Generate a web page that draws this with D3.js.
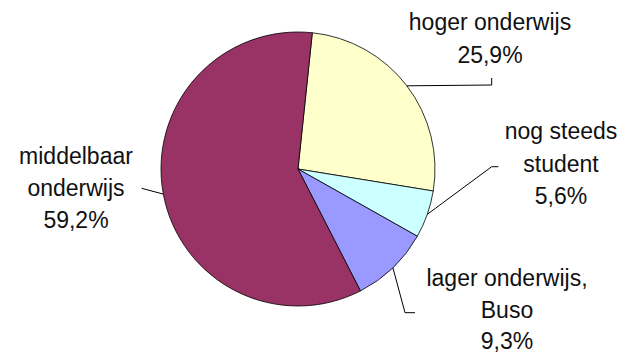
<!DOCTYPE html>
<html><head><meta charset="utf-8">
<script src="https://cdn.jsdelivr.net/npm/d3@7"></script>
<style>body{margin:0;background:#fff}svg{display:block}</style>
</head><body>
<script>
const categories = ["hoger onderwijs", "nog steeds student", "lager onderwijs, Buso", "middelbaar onderwijs"];
const values = [25.9, 5.6, 9.3, 59.2];
const labelLines = [["hoger onderwijs", "25,9%"], ["nog steeds", "student", "5,6%"], ["lager onderwijs,", "Buso", "9,3%"], ["middelbaar", "onderwijs", "59,2%"]];
const colors = ["#FFFFCC", "#CCFFFF", "#9999FF", "#993366"];

const W = 627, H = 354, cx = 298, cy = 169, R = 137;
const startDeg = 6;
// label layout: text center x, first baseline y, line height, elbow point, horizontal end
const layout = [
  {tx: 490, ty: 30, lh: 33, elbow: [491.7, 85], end: [491.7, 78]},
  {tx: 561, ty: 139, lh: 32.5, elbow: [491.7, 166.7], end: [498.3, 166.7]},
  {tx: 507, ty: 286, lh: 31.5, elbow: [405, 312.7], end: [415, 312.7]},
  {tx: 76, ty: 163.5, lh: 32, elbow: [141.7, 188.3], end: [141.7, 188.3]}
];

const svg = d3.select("body").append("svg").attr("width", W).attr("height", H);
const pie = d3.pie().sort(null).value(d => d)
  .startAngle(startDeg * Math.PI / 180).endAngle(startDeg * Math.PI / 180 + 2 * Math.PI);
const arcs = pie(values);
const arc = d3.arc().innerRadius(0).outerRadius(R);
const g = svg.append("g").attr("transform", `translate(${cx},${cy})`);
g.selectAll("path").data(arcs).join("path")
  .attr("d", arc).attr("fill", (d, i) => colors[i])
  .attr("stroke", "#000").attr("stroke-width", 0.8).attr("stroke-linejoin", "round");

arcs.forEach((a, i) => {
  const m = (a.startAngle + a.endAngle) / 2;
  const sx = cx + R * Math.sin(m), sy = cy - R * Math.cos(m);
  const L = layout[i];
  const pts = [[sx, sy], L.elbow, L.end];
  svg.append("path").attr("d", d3.line()(pts)).attr("fill", "none")
    .attr("stroke", "#000").attr("stroke-width", 1);
  const t = svg.append("text").attr("text-anchor", "middle")
    .attr("font-family", "Liberation Sans, Arial, sans-serif").attr("font-size", 23).attr("fill", "#111");
  labelLines[i].forEach((s, j) => t.append("tspan").attr("x", L.tx).attr("y", L.ty + j * L.lh).text(s));
});
</script>
</body></html>
